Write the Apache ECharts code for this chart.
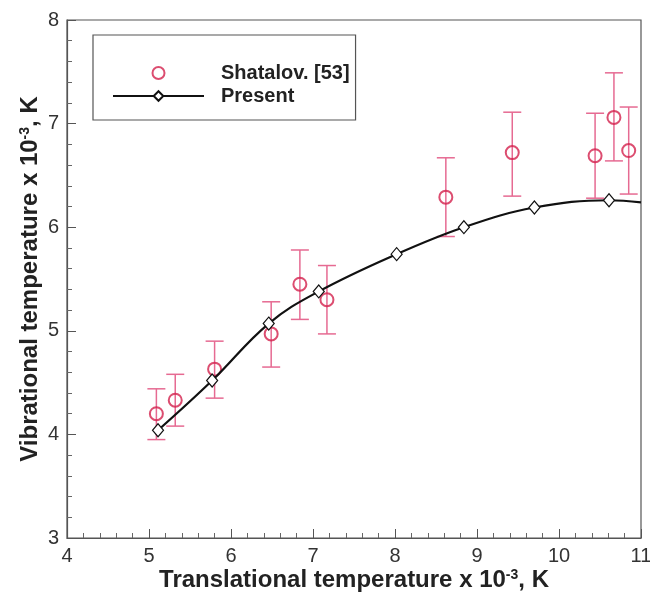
<!DOCTYPE html>
<html>
<head>
<meta charset="utf-8">
<script src="https://cdn.jsdelivr.net/npm/echarts@6/dist/echarts.min.js"></script>
<style>
  html, body { margin: 0; padding: 0; background: #fff; }
  #chart { width: 650px; height: 595px; }
</style>
</head>
<body>
<div id="chart"></div>
<script>
// Shatalov [53] measurements: translational T, vibrational T, error bar low/high (x 10^-3 K)
const expX = [5.09, 5.32, 5.80, 6.49, 6.84, 7.17, 8.62, 9.43, 10.44, 10.67, 10.85];
const expY = [4.20, 4.33, 4.63, 4.97, 5.45, 5.30, 6.29, 6.72, 6.69, 7.06, 6.74];
const expLow = [3.95, 4.08, 4.35, 4.65, 5.11, 4.97, 5.91, 6.30, 6.28, 6.64, 6.32];
const expHigh = [4.44, 4.58, 4.90, 5.28, 5.78, 5.63, 6.67, 7.11, 7.10, 7.49, 7.16];

// Present computation (last point is the curve end at the frame, no marker)
const presX = [5.11, 5.77, 6.46, 7.07, 8.02, 8.84, 9.70, 10.61, 11.0];
const presY = [4.04, 4.52, 5.07, 5.38, 5.74, 6.00, 6.19, 6.26, 6.24];

const xTicks = [4, 5, 6, 7, 8, 9, 10, 11];
const yTicks = [3, 4, 5, 6, 7, 8];

const red = '#d3204c';
const pink = '#e66a92';
const font = 'Liberation Sans, Arial, sans-serif';

const chart = echarts.init(document.getElementById('chart'));

const axisCommon = {
  type: 'value',
  interval: 1,
  axisLine: { show: true, lineStyle: { color: '#555', width: 1.2 } },
  axisTick: { show: true, inside: true, length: 9, lineStyle: { color: '#555' } },
  minorTick: { show: true, splitNumber: 5, length: 5, lineStyle: { color: '#666' } },
  splitLine: { show: false },
  axisLabel: { color: '#333', fontSize: 20, fontFamily: font },
  nameTextStyle: {
    fontFamily: font,
    rich: {
      a: { fontSize: 24, fontWeight: 'bold', color: '#222', fontFamily: font },
      s: { fontSize: 14, fontWeight: 'bold', color: '#222', verticalAlign: 'top', fontFamily: font }
    }
  },
  nameLocation: 'middle',
  nameMoveOverlap: false
};

const errorData = expX.map((x, i) => [x, expLow[i], expHigh[i]]);

chart.setOption({
  backgroundColor: '#fff',
  animation: false,
  grid: {
    left: 67, right: 9, top: 20, bottom: 57,
    outerBoundsMode: 'none',
    show: true, borderColor: '#555', borderWidth: 1.2
  },
  legend: {
    left: 93, top: 35,
    orient: 'vertical',
    data: ['Shatalov. [53]', 'Present'],
    itemWidth: 91, itemHeight: 12, itemGap: 3,
    padding: [28, 6, 14, 19],
    borderColor: '#555', borderWidth: 1.2,
    textStyle: {
      fontSize: 20, fontWeight: 'bold', color: '#222',
      fontFamily: font,
      padding: [0, 0, 0, 12]
    }
  },
  xAxis: Object.assign({}, axisCommon, {
    min: xTicks[0], max: xTicks[xTicks.length - 1],
    name: '{a|Translational temperature x 10}{s|-3}{a|, K}',
    nameGap: 30
  }),
  yAxis: Object.assign({}, axisCommon, {
    min: yTicks[0], max: yTicks[yTicks.length - 1],
    name: '{a|Vibrational temperature x 10}{s|-3}{a|, K}',
    nameGap: 25
  }),
  series: [
    {
      type: 'custom',
      name: 'errors',
      data: errorData,
      z: 1,
      renderItem: function (params, api) {
        const x = api.value(0);
        const lo = api.coord([x, api.value(1)]);
        const hi = api.coord([x, api.value(2)]);
        const w = 9;
        const style = { stroke: pink, lineWidth: 1.5 };
        return {
          type: 'group',
          children: [
            { type: 'line', shape: { x1: lo[0], y1: lo[1], x2: hi[0], y2: hi[1] }, style: style },
            { type: 'line', shape: { x1: lo[0] - w, y1: lo[1], x2: lo[0] + w, y2: lo[1] }, style: style },
            { type: 'line', shape: { x1: hi[0] - w, y1: hi[1], x2: hi[0] + w, y2: hi[1] }, style: style }
          ]
        };
      },
      encode: { x: 0, y: [1, 2] },
      silent: true
    },
    {
      type: 'scatter',
      name: 'Shatalov. [53]',
      data: expX.map((x, i) => [x, expY[i]]),
      symbol: 'circle',
      symbolSize: 13,
      z: 3,
      itemStyle: { color: 'rgba(255,255,255,0)', borderColor: red, borderWidth: 2 }
    },
    {
      type: 'line',
      name: 'Present',
      data: presX.map((x, i) => i === presX.length - 1
        ? { value: [x, presY[i]], symbol: 'none' }
        : [x, presY[i]]),
      smooth: 0.4,
      symbol: 'diamond',
      symbolSize: [11, 13],
      showAllSymbol: true,
      z: 4,
      lineStyle: { color: '#111', width: 2.2 },
      itemStyle: { color: '#fff', borderColor: '#111', borderWidth: 1.2 }
    }
  ]
});
</script>
</body>
</html>
